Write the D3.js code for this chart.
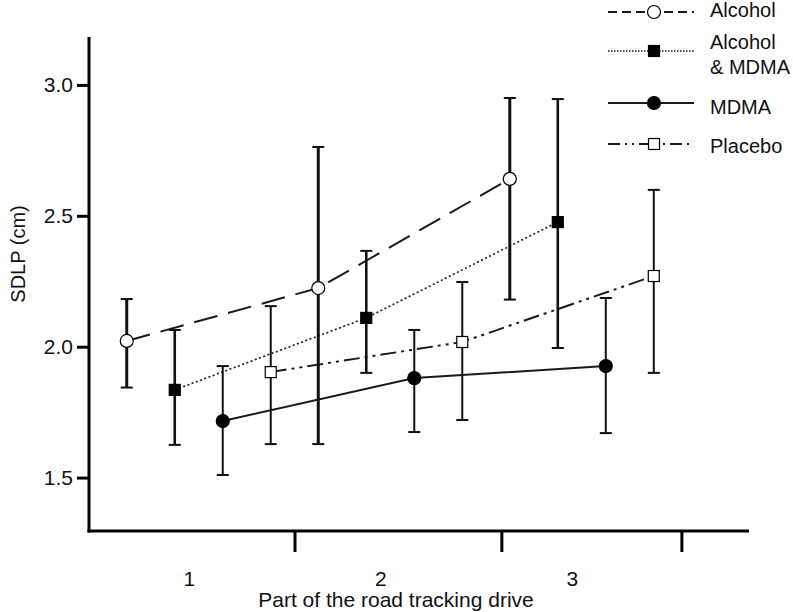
<!DOCTYPE html>
<html>
<head>
<meta charset="utf-8">
<script src="https://cdn.jsdelivr.net/npm/d3@7"></script>
<style>
  html, body { margin: 0; padding: 0; background: #fff; }
  svg text { font-family: "Liberation Sans", Arial, sans-serif; fill: #111; }
</style>
</head>
<body>
<svg id="chart" width="793" height="612"></svg>
<script>
// ---- data ----
const parts = [1, 2, 3];
const partLabels = ["1", "2", "3"];
const boundaryTicks = [1.5, 2.58, 3.52];
const yTicks = [1.5, 2.0, 2.5, 3.0];
const seriesNames = ["Alcohol", "Alcohol & MDMA", "MDMA", "Placebo"];

const alcoholMean = [2.022, 2.224, 2.641];
const alcoholHi   = [2.182, 2.763, 2.950];
const alcoholLo   = [1.844, 1.628, 2.180];

const alcMdmaMean = [1.835, 2.110, 2.476];
const alcMdmaHi   = [2.064, 2.366, 2.946];
const alcMdmaLo   = [1.625, 1.900, 1.995];

const mdmaMean = [1.716, 1.880, 1.926];
const mdmaHi   = [1.926, 2.064, 2.186];
const mdmaLo   = [1.510, 1.674, 1.670];

const placeboMean = [1.903, 2.018, 2.270];
const placeboHi   = [2.155, 2.247, 2.599];
const placeboLo   = [1.628, 1.720, 1.900];

(function () {
const series = [
  { name: "Alcohol", mean: alcoholMean, hi: alcoholHi, lo: alcoholLo,
    dash: "24,11", lw: 2, ebw: 3, marker: "circle", fill: "#fff",
    legendDash: "9,5", legendLabel: ["Alcohol"] },
  { name: "Alcohol & MDMA", mean: alcMdmaMean, hi: alcMdmaHi, lo: alcMdmaLo,
    dash: "2,2.5", lw: 1.6, ebw: 2.6, marker: "square", fill: "#000",
    legendDash: "1.5,1.5", legendLabel: ["Alcohol", "& MDMA"] },
  { name: "MDMA", mean: mdmaMean, hi: mdmaHi, lo: mdmaLo,
    dash: null, lw: 2, ebw: 2, marker: "circle", fill: "#000",
    legendDash: null, legendLabel: ["MDMA"] },
  { name: "Placebo", mean: placeboMean, hi: placeboHi, lo: placeboLo,
    dash: "16,5,3,5,3,5", lw: 2, ebw: 2, marker: "square", fill: "#fff",
    legendDash: "12,5,2,5,2,5", legendLabel: ["Placebo"] }
];

const svg = d3.select("#chart");
const pLeft = 89, pRight = 749, pTop = 37, pBottom = 531;

const x = d3.scaleLinear().domain([0.427, 3.873]).range([pLeft, pRight]);
const offset = d3.scalePoint().domain(seriesNames).range([-72, 72]);
const y = d3.scaleLinear().domain([1.296, 3.183]).range([pBottom, pTop]);

// ---- axes ----
const yAxis = svg.append("g").attr("transform", `translate(${pLeft},0)`)
  .call(d3.axisLeft(y).tickValues(yTicks).tickSize(12).tickPadding(4)
        .tickFormat(d3.format(".1f")));
yAxis.select(".domain").attr("stroke", "#000").attr("stroke-width", 3)
  .attr("d", `M0,${pTop}V${pBottom + 1.5}`);
yAxis.selectAll(".tick line").attr("stroke", "#000").attr("stroke-width", 3);
yAxis.selectAll(".tick text").attr("font-size", 21)
  .style("font-family", "Liberation Sans, Arial, sans-serif").attr("fill", "#111");

const xAxis = svg.append("g").attr("transform", `translate(0,${pBottom})`)
  .call(d3.axisBottom(x).tickValues(boundaryTicks).tickSize(21).tickFormat(""));
xAxis.select(".domain").attr("stroke", "#000").attr("stroke-width", 3)
  .attr("d", `M${pLeft - 1.5},0H${pRight}`);
xAxis.selectAll(".tick line").attr("stroke", "#000").attr("stroke-width", 3);

const xLab = svg.append("g").attr("transform", `translate(0,${pBottom})`)
  .call(d3.axisBottom(x).tickValues(parts).tickSize(0).tickPadding(0)
        .tickFormat((d, i) => partLabels[i]));
xLab.select(".domain").remove();
xLab.selectAll(".tick text").attr("font-size", 21).attr("dy", 0).attr("y", 55)
  .attr("dx", -10).style("font-family", "Liberation Sans, Arial, sans-serif").attr("fill", "#111");

svg.append("text").attr("x", 396).attr("y", 607).attr("text-anchor", "middle")
  .attr("font-size", 21).text("Part of the road tracking drive");
svg.append("text").attr("transform", "translate(25,254) rotate(-90)")
  .attr("text-anchor", "middle").attr("font-size", 20).text("SDLP (cm)");

// ---- plot ----
const px = (s, i) => x(parts[i]) + offset(s.name);

series.forEach(s => {
  const line = d3.line().x((d, i) => px(s, i)).y(d => y(d));
  svg.append("path").datum(s.mean).attr("d", line)
    .attr("fill", "none").attr("stroke", "#1a1a1a").attr("stroke-width", s.lw)
    .attr("stroke-dasharray", s.dash);
});

series.forEach(s => {
  const g = svg.append("g");
  parts.forEach((p, i) => {
    const cx = px(s, i);
    g.append("line").attr("x1", cx).attr("x2", cx)
      .attr("y1", y(s.hi[i])).attr("y2", y(s.lo[i]))
      .attr("stroke", "#111").attr("stroke-width", s.ebw);
    [s.hi[i], s.lo[i]].forEach(v => {
      g.append("line").attr("x1", cx - 6).attr("x2", cx + 6)
        .attr("y1", y(v)).attr("y2", y(v))
        .attr("stroke", "#111").attr("stroke-width", 2);
    });
  });
});

function marker(g, s, cx, cy) {
  if (s.marker === "circle") {
    g.append("circle").attr("cx", cx).attr("cy", cy).attr("r", 6.5)
      .attr("fill", s.fill).attr("stroke", "#000").attr("stroke-width", 1.2);
  } else {
    g.append("rect").attr("x", cx - 5.5).attr("y", cy - 5.5)
      .attr("width", 11).attr("height", 11)
      .attr("fill", s.fill).attr("stroke", "#000").attr("stroke-width", 1.2);
  }
}

series.forEach(s => {
  const g = svg.append("g");
  parts.forEach((p, i) => marker(g, s, px(s, i), y(s.mean[i])));
});

// ---- legend ----
const legendLineY = [12, 51, 103, 144];
const legendTextY = [[17], [49, 74], [114], [153]];
series.forEach((s, k) => {
  const g = svg.append("g");
  const ly = legendLineY[k];
  g.append("line").attr("x1", 608).attr("x2", 694).attr("y1", ly).attr("y2", ly)
    .attr("stroke", "#1a1a1a").attr("stroke-width", s.name === "Alcohol & MDMA" ? 1.5 : 2)
    .attr("stroke-dasharray", s.legendDash);
  marker(g, s, 654, ly);
  s.legendLabel.forEach((t, j) => {
    g.append("text").attr("x", 710).attr("y", legendTextY[k][j])
      .attr("font-size", 20).text(t);
  });
});
})();
</script>
</body>
</html>
